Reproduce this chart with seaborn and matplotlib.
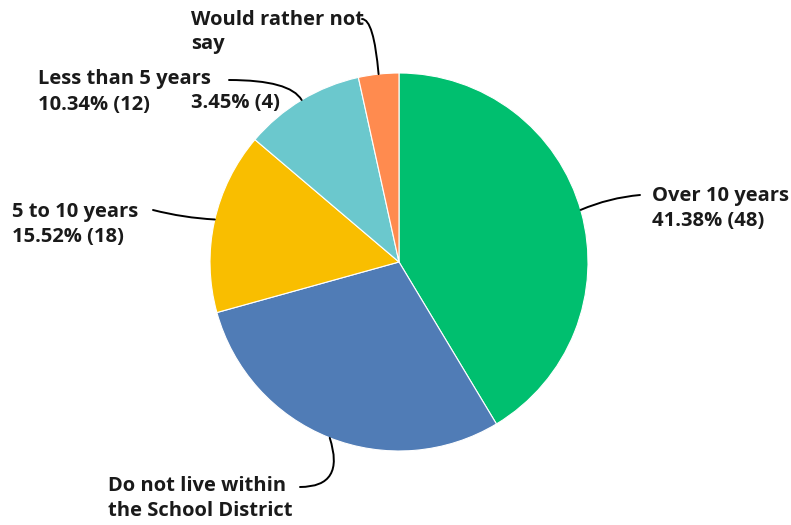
import numpy as np
import matplotlib
matplotlib.use("Agg")
import matplotlib.pyplot as plt
import seaborn as sns

categories = ["Over 10 years", "Do not live within\nthe School District", "5 to 10 years",
              "Less than 5 years", "Would rather not\nsay"]
counts = [48, 34, 18, 12, 4]
percent_labels = ["41.38% (48)", None, "15.52% (18)", "10.34% (12)", "3.45% (4)"]
colors = ["#00BF6F", "#507CB6", "#F9BE00", "#6BC8CD", "#FF8B4F"]

sns.set_theme(style="white")
plt.rcParams["font.family"] = ["Open Sans", "DejaVu Sans"]

W, H = 791, 525
fig = plt.figure(figsize=(W / 100, H / 100), dpi=100)
ax = fig.add_axes([0, 0, 1, 1])
ax.set_aspect("equal")
ax.axis("off")

cx, cy, r = 399, 525 - 262, 189
wedges, _ = ax.pie(counts, colors=colors, startangle=90, counterclock=False,
                   center=(cx, cy), radius=r,
                   wedgeprops=dict(edgecolor="white", linewidth=0.8))
ax.set_xlim(0, W)
ax.set_ylim(0, H)

def rim_at(angle_deg):
    t = np.deg2rad(angle_deg)
    return cx + r * np.cos(t), cy + r * np.sin(t)

txt = dict(fontsize=14.5, fontweight="bold", color="#1a1a1a", va="center", ha="left",
           linespacing=1.3)
line = dict(arrowstyle="-", color="black", lw=1.4, shrinkA=0, shrinkB=0)

def Y(y):
    return H - y

# Over 10 years
ax.annotate("", xy=rim_at(16), xytext=(640, Y(195)),
            arrowprops=dict(**line, connectionstyle="arc3,rad=0.08"))
ax.text(652, Y(208.5), categories[0] + "\n" + percent_labels[0], **txt)

# Do not live within the School District
ax.annotate("", xy=rim_at(-111.5), xytext=(300, Y(487)),
            arrowprops=dict(**line, connectionstyle="angle3,angleA=0,angleB=-72"))
ax.text(108, Y(498.5), categories[1], **txt)

# 5 to 10 years
ax.annotate("", xy=rim_at(167), xytext=(153, Y(210)),
            arrowprops=dict(**line, connectionstyle="arc3,rad=0.05"))
ax.text(12, Y(224.5), categories[2] + "\n" + percent_labels[2], **txt)

# Less than 5 years
ax.annotate("", xy=rim_at(121), xytext=(229, Y(80)),
            arrowprops=dict(**line, connectionstyle="angle3,angleA=0,angleB=-60"))
ax.text(38, Y(79), categories[3], **txt)
ax.text(38, Y(105), percent_labels[3], **txt)

# Would rather not say
ax.annotate("", xy=rim_at(96.2), xytext=(362, Y(19)),
            arrowprops=dict(**line, connectionstyle="angle3,angleA=0,angleB=95"))
ax.text(191, Y(32), categories[4], **txt)
ax.text(191, Y(103), percent_labels[4], **txt)

fig.savefig("out.png", dpi=100, facecolor="white")
